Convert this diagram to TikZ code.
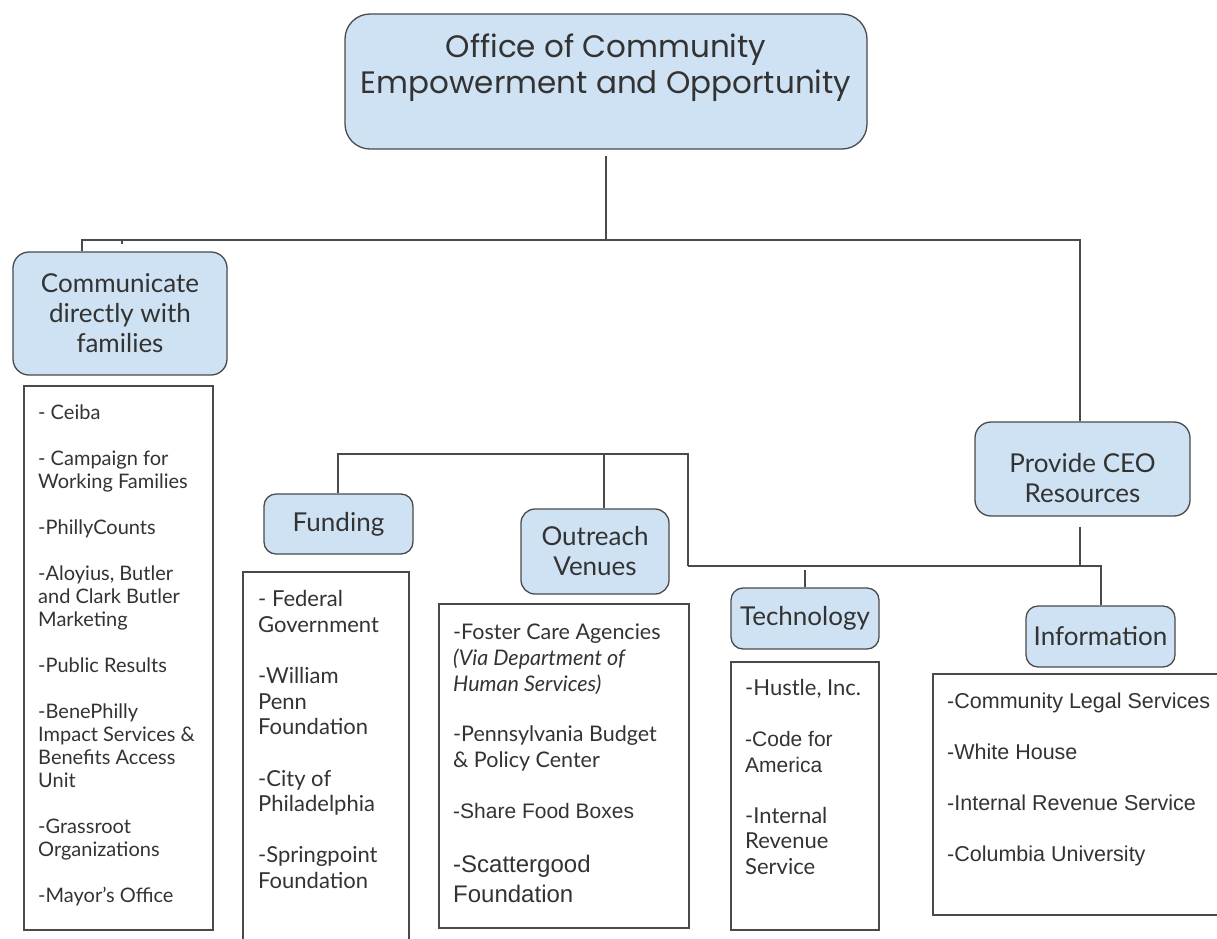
\documentclass[tikz,border=0pt]{standalone}
\usepackage{fontspec}
\setmainfont{Lato}
\newfontfamily\titlefont{Poppins}
\newfontfamily\arialfont{Liberation Sans}
\definecolor{boxfill}{HTML}{CFE2F3}
\definecolor{edge}{HTML}{4A4A4A}
\definecolor{ink}{HTML}{333333}
\newcommand{\lab}{\fontsize{26}{30}\selectfont}
\begin{document}
\begin{tikzpicture}[x=1pt,y=-1pt,
  hbox/.style={draw=edge, fill=boxfill, line width=1.3pt, rounded corners=16pt,
    inner sep=0pt, align=center, text=ink, font=\lab},
  listbox/.style={draw=edge, line width=1.3pt, inner sep=0pt},
  listtext/.style={anchor=north west, inner sep=0pt, align=left, text=ink},
  link/.style={draw=edge, line width=1.3pt}]
\clip (0,0) rectangle (1217,938);
\fill[white] (0,0) rectangle (1217,938);

% headline box and first-level boxes
\node[hbox, rounded corners=25pt, minimum width=522pt, minimum height=135pt,
  font=\titlefont\fontsize{31}{36}\selectfont] (office) at (606,81.5)
  {Office of Community\\Empowerment and Opportunity\\\mbox{}};
\node[hbox, minimum width=214pt, minimum height=123pt] (comm) at (120,313.5)
  {Communicate\\directly with\\families};
\node[hbox, minimum width=215pt, minimum height=94pt] (prov) at (1082.5,469)
  {\rule{0pt}{37pt}Provide CEO\\Resources};

% second-level boxes
\node[hbox, rounded corners=12pt, minimum width=149pt, minimum height=60pt] (fund) at (338.5,524) {Funding};
\node[hbox, rounded corners=14pt, minimum width=148pt, minimum height=85pt] (outr) at (595,551.5) {Outreach\\Venues};
\node[hbox, rounded corners=12pt, minimum width=148pt, minimum height=61pt] (tech) at (805,618.5) {Technology};
\node[hbox, rounded corners=12pt, minimum width=149pt, minimum height=61pt] (info) at (1100.5,636.5) {Information};

% list frames
\node[listbox, minimum width=189pt, minimum height=544pt] (lcomm) at (118.5,658) {};
\node[listbox, minimum width=166pt, minimum height=373pt] (lfund) at (326,758.5) {};
\node[listbox, minimum width=250pt, minimum height=324pt] (loutr) at (564,766) {};
\node[listbox, minimum width=148pt, minimum height=268pt] (ltech) at (805,796) {};
\node[listbox, minimum width=297pt, minimum height=241pt] (linfo) at (1081.5,794.5) {};

% list contents
\node[listtext, font=\fontsize{20}{23}\selectfont] (tcomm) at (38,404.5)
  {- Ceiba\\[23pt]- Campaign for\\Working Families\\[23pt]-PhillyCounts\\[23pt]%
   -Aloyius, Butler\\and Clark Butler\\Marketing\\[23pt]-Public Results\\[23pt]%
   -BenePhilly\\Impact Services \&\\Benefits Access\\Unit\\[23pt]%
   -Grassroot\\Organizations\\[23pt]-Mayor's Office};
\node[listtext, font=\fontsize{22}{25.6}\selectfont] (tfund) at (258,590.5)
  {- Federal\\Government\\[25.6pt]-William\\Penn\\Foundation\\[25.6pt]%
   -City of\\Philadelphia\\[25.6pt]-Springpoint\\Foundation};
\node[listtext, font=\fontsize{21.5}{26}\selectfont] (toutr) at (453,624)
  {-Foster Care Agencies\\\textit{(Via Department of}\\\textit{Human Services)}\\[24pt]%
   -Pennsylvania Budget\\\& Policy Center\\[25pt]%
   {\arialfont\fontsize{21}{26}\selectfont -Share Food Boxes}\\[28pt]%
   {\arialfont\fontsize{24}{30}\selectfont -Scattergood}\\[4pt]%
   {\arialfont\fontsize{24}{30}\selectfont Foundation}};
\node[listtext, font=\fontsize{22}{25.5}\selectfont] (ttech) at (745,679.5)
  {-Hustle, Inc.\\[25.5pt]{\arialfont\fontsize{21}{25.5}\selectfont -Code for}\\%
   {\arialfont\fontsize{21}{25.5}\selectfont America}\\[25.5pt]-Internal\\Revenue\\Service};
\node[listtext, font=\arialfont\fontsize{21.5}{25.5}\selectfont] (tinfo) at (947,693)
  {-Community Legal Services\\[25.5pt]-White House\\[25.5pt]%
   -Internal Revenue Service\\[25.5pt]-Columbia University};

% junction points of the connectors
\coordinate (kA) at (82,240);
\coordinate (kB) at (606,240);
\coordinate (kC) at (1080,240);
\coordinate (kD) at (1080,566);
\coordinate (kE) at (688,566);
\coordinate (kF) at (1101,566);
\coordinate (kG) at (805,566);
\coordinate (kH) at (688,454);
\coordinate (kI) at (338,454);
\coordinate (kJ) at (604,454);
\coordinate (kT) at (122,240);

% connectors
\draw[link, shorten <=6pt] (office.south) -- (kB);
\draw[link] (kA |- comm.north) -- (kA) -- (kC) -- (kC |- prov.north);
\draw[link] (kT) -- ++(0,4);
\draw[link, shorten <=10pt] (kD |- prov.south) -- (kD);
\draw[link] (kE) -- (kF) -- (kF |- info.north);
\draw[link, shorten <=4pt] (kG) -- (tech.north);
\draw[link] (kE) -- (kH) -- (kI) -- (kI |- fund.north);
\draw[link] (kJ) -- (kJ |- outr.north);
\end{tikzpicture}
\end{document}
